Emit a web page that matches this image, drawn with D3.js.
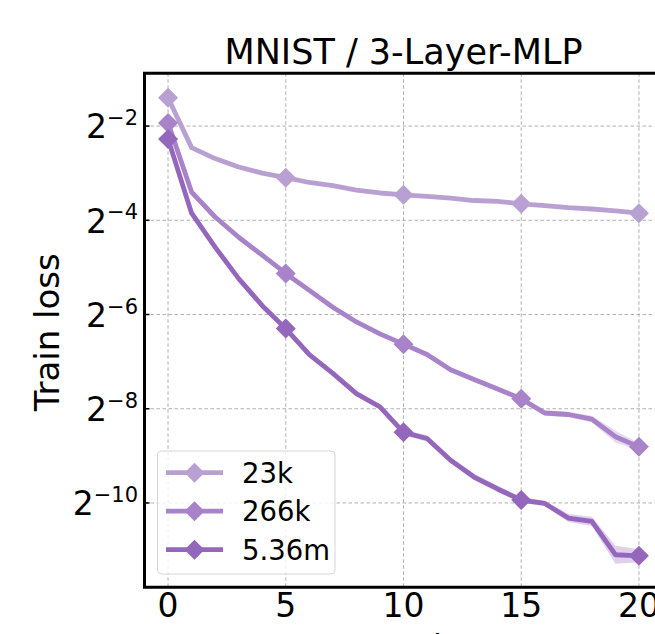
<!DOCTYPE html>
<html>
<head>
<meta charset="utf-8">
<script src="https://cdn.jsdelivr.net/npm/d3@7"></script>
<style>
  body { margin: 0; background: #fff; }
  svg { display: block; font-family: "DejaVu Sans", sans-serif; }
</style>
</head>
<body>
<div id="chart"></div>
<script>
// epochs and train loss per model size
const epochs = d3.range(0, 21);
const seriesNames = ["23k", "266k", "5.36m"];
const loss23k = [0.379, 0.182, 0.155, 0.137, 0.125, 0.117, 0.109, 0.104, 0.0975, 0.0934, 0.0909,
  0.0889, 0.0866, 0.0836, 0.0825, 0.0797, 0.0775, 0.0753, 0.0738, 0.0718, 0.0694];
const loss266k = [0.262, 0.0947, 0.0656, 0.0487, 0.0374, 0.0286, 0.0223, 0.0174, 0.0140, 0.01175, 0.0101,
  0.00867, 0.00694, 0.00601, 0.00523, 0.00452, 0.00367, 0.00359, 0.00335, 0.00259, 0.00223];
const loss536m = [0.207, 0.0694, 0.0421, 0.0265, 0.0178, 0.0127, 0.00867, 0.00657, 0.00488, 0.00402, 0.00276,
  0.00252, 0.00183, 0.00143, 0.00120, 0.00102, 0.000970, 0.000782, 0.000745, 0.000456, 0.000449];
// relative half-width of the shaded band around each curve
const spread23k = [0.01, 0.01, 0.01, 0.01, 0.01, 0.01, 0.01, 0.01, 0.01, 0.01, 0.01,
  0.01, 0.01, 0.01, 0.01, 0.01, 0.01, 0.01, 0.01, 0.01, 0.01];
const spread266k = [0.01, 0.01, 0.01, 0.01, 0.01, 0.01, 0.01, 0.01, 0.01, 0.01, 0.02,
  0.02, 0.02, 0.02, 0.02, 0.03, 0.04, 0.04, 0.05, 0.09, 0.06];
const spread536m = [0.01, 0.01, 0.01, 0.01, 0.01, 0.01, 0.02, 0.02, 0.02, 0.03, 0.04,
  0.05, 0.04, 0.05, 0.05, 0.04, 0.04, 0.06, 0.07, 0.14, 0.10];
const xTicks = [0, 5, 10, 15, 20];
const yTickExps = [-2, -4, -6, -8, -10];
const markEvery = 5;

const colors = ["#b9a0d3", "#a983c9", "#9467bd"];

const series = seriesNames.map((name, i) => ({
  name,
  color: colors[i],
  values: [loss23k, loss266k, loss536m][i],
  spread: [spread23k, spread266k, spread536m][i]
}));

const width = 655, height = 634;
const mLeft = 144.5, mRight = 662.5, mTop = 73.3, mBottom = 587.3;

const svg = d3.select("#chart").append("svg")
  .attr("width", width)
  .attr("height", height);

const x = d3.scaleLinear().domain([-1, 21]).range([mLeft, mRight]);
const y = d3.scaleLog().base(2)
  .domain([Math.pow(2, -11.79), Math.pow(2, -0.88)])
  .range([mBottom, mTop]);

// grid
const grid = svg.append("g")
  .attr("stroke", "#b0b0b0")
  .attr("stroke-width", 1)
  .attr("stroke-dasharray", "3.5,2.5");
grid.selectAll("line.gx").data(xTicks).join("line")
  .attr("class", "gx")
  .attr("x1", d => x(d)).attr("x2", d => x(d))
  .attr("y1", mTop).attr("y2", mBottom);
grid.selectAll("line.gy").data(yTickExps).join("line")
  .attr("class", "gy")
  .attr("x1", mLeft).attr("x2", mRight)
  .attr("y1", d => y(Math.pow(2, d))).attr("y2", d => y(Math.pow(2, d)));

// bands
const area = d3.area()
  .x((d, i) => x(epochs[i]))
  .y0(d => y(d.v / (1 + d.s)))
  .y1(d => y(d.v * (1 + d.s)));

const line = d3.line()
  .x((d, i) => x(epochs[i]))
  .y(d => y(d));

const diamond = d3.symbol().type(d3.symbolSquare).size(200);

series.forEach(s => {
  const g = svg.append("g");
  g.append("path")
    .datum(s.values.map((v, i) => ({ v, s: s.spread[i] })))
    .attr("d", area)
    .attr("fill", s.color)
    .attr("fill-opacity", 0.3);
  g.append("path")
    .datum(s.values)
    .attr("d", line)
    .attr("fill", "none")
    .attr("stroke", s.color)
    .attr("stroke-width", 4.8)
    .attr("stroke-linejoin", "round")
    .attr("stroke-linecap", "round");
  g.selectAll("path.mk")
    .data(epochs.filter(e => e % markEvery === 0))
    .join("path")
    .attr("class", "mk")
    .attr("d", diamond)
    .attr("transform", e => `translate(${x(e)},${y(s.values[e])}) rotate(45)`)
    .attr("fill", s.color);
});

// spines
svg.append("path")
  .attr("d", `M${mRight},${mTop}H${mLeft}V${mBottom}H${mRight}`)
  .attr("fill", "none")
  .attr("stroke", "#000")
  .attr("stroke-width", 3);

// y ticks (inward) and labels
svg.append("g").selectAll("line").data(yTickExps).join("line")
  .attr("x1", mLeft).attr("x2", mLeft + 5)
  .attr("y1", d => y(Math.pow(2, d))).attr("y2", d => y(Math.pow(2, d)))
  .attr("stroke", "#000").attr("stroke-width", 1.5);

const yl = svg.append("g").selectAll("text").data(yTickExps).join("text")
  .attr("x", 138)
  .attr("y", d => y(Math.pow(2, d)) + 12.4)
  .attr("text-anchor", "end")
  .attr("font-size", 33);
yl.append("tspan").text("2");
yl.append("tspan")
  .attr("dy", -13.3)
  .attr("font-size", 21)
  .text(d => "\u2212" + Math.abs(d));

// x tick labels
svg.append("g").selectAll("text").data(xTicks).join("text")
  .attr("x", d => x(d))
  .attr("y", 617)
  .attr("text-anchor", "middle")
  .attr("font-size", 33)
  .text(d => d);

// axis titles
svg.append("text")
  .attr("x", (mLeft + mRight) / 2)
  .attr("y", 64)
  .attr("text-anchor", "middle")
  .attr("font-size", 35)
  .text("MNIST / 3-Layer-MLP");

svg.append("text")
  .attr("transform", `translate(59,${(mTop + mBottom) / 2 + 2}) rotate(-90)`)
  .attr("text-anchor", "middle")
  .attr("font-size", 34)
  .text("Train loss");

svg.append("text")
  .attr("x", (mLeft + mRight) / 2)
  .attr("y", 659)
  .attr("text-anchor", "middle")
  .attr("font-size", 33)
  .text("Epoch");

// legend
const legend = svg.append("g");
legend.append("rect")
  .attr("x", 157.5).attr("y", 451)
  .attr("width", 177.5).attr("height", 123)
  .attr("rx", 4)
  .attr("fill", "#fff").attr("fill-opacity", 0.8)
  .attr("stroke", "#d6d6d6").attr("stroke-width", 1);

const entries = legend.selectAll("g.entry").data(series).join("g")
  .attr("class", "entry")
  .attr("transform", (d, i) => `translate(0,${472.7 + i * 38.5})`);
entries.append("line")
  .attr("x1", 166).attr("x2", 223)
  .attr("stroke", d => d.color)
  .attr("stroke-width", 4.8);
entries.append("path")
  .attr("d", diamond)
  .attr("transform", "translate(194.5,0) rotate(45)")
  .attr("fill", d => d.color);
entries.append("text")
  .attr("x", 242)
  .attr("y", 10)
  .attr("font-size", 27.5)
  .text(d => d.name);
</script>
</body>
</html>
